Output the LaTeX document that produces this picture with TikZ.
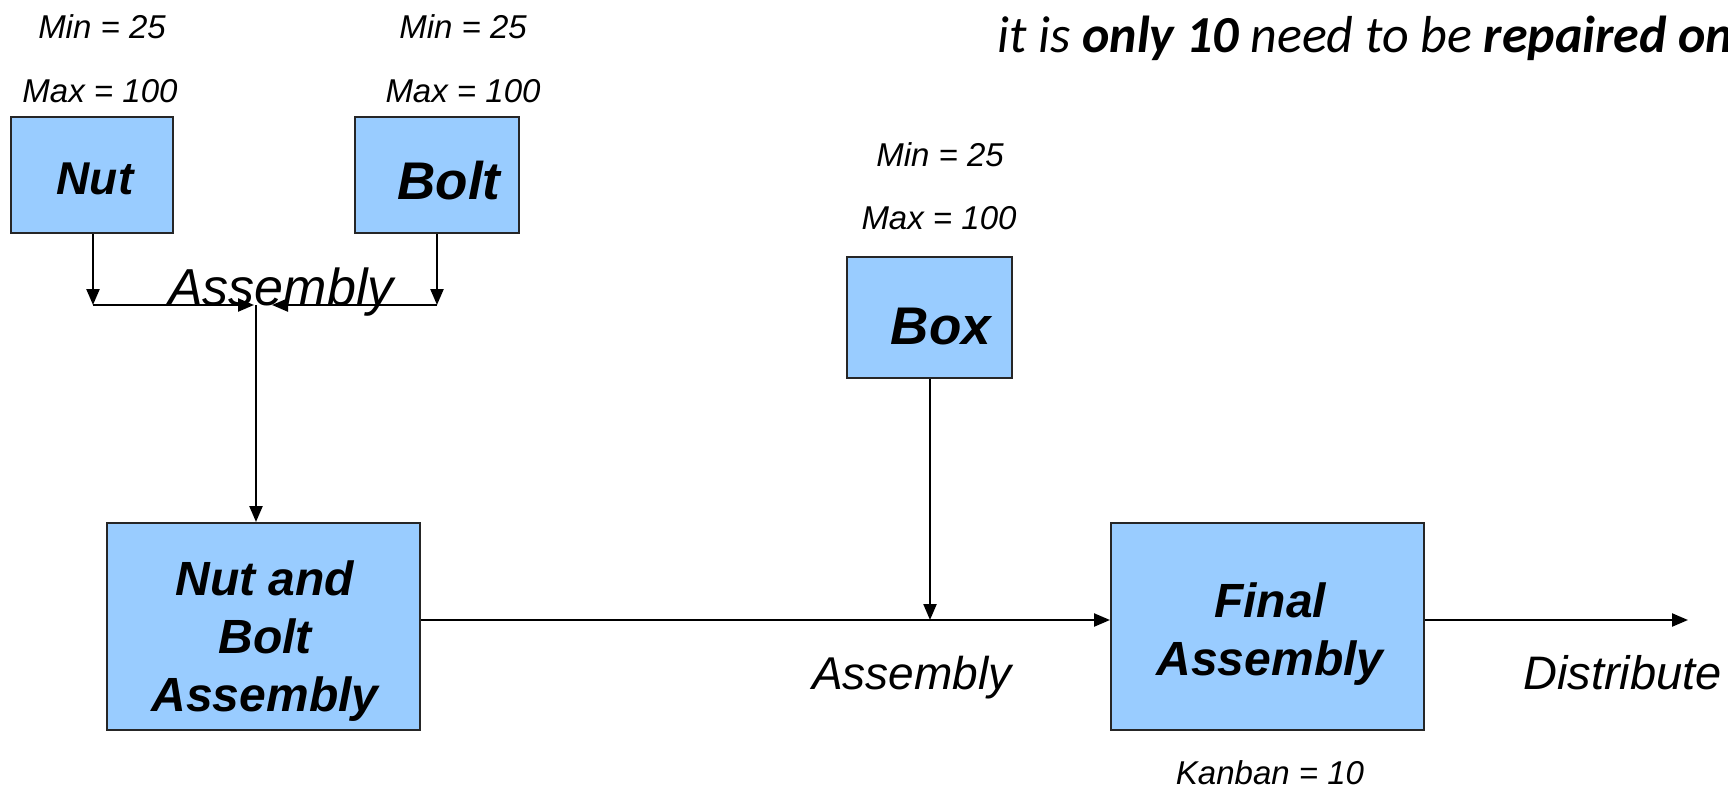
\documentclass[tikz,border=0pt]{standalone}
\usepackage{fontspec}
\setmainfont{Liberation Sans}
\newfontfamily\calib{Carlito}
\usetikzlibrary{arrows.meta}
\definecolor{boxblue}{HTML}{99CCFF}
\begin{document}
\begin{tikzpicture}[x=1pt,y=-1pt,
  blk/.style={draw=black!85, line width=2pt, fill=boxblue, inner sep=0pt},
  arr/.style={line width=2.3pt, -{Triangle[length=16pt,width=13pt]}},
  lim/.style={font=\itshape\fontsize{33}{40}\selectfont, inner sep=0pt, anchor=base},
  big/.style={font=\bfseries\itshape\fontsize{48}{58}\selectfont, align=center, inner sep=0pt},
  lbl/.style={font=\itshape\fontsize{46}{55}\selectfont, inner sep=0pt, anchor=base west}]
\useasboundingbox (0,0) rectangle (1728,788);

% top note
\node[inner sep=0pt, anchor=base west, font=\calib\itshape\fontsize{52}{62}\selectfont] (note) at (997,52)
  {it is \textbf{only 10} need to be \textbf{repaired on}};

% boxes
\node[blk, minimum width=162pt, minimum height=116pt] (nut) at (92,175) {};
\node[blk, minimum width=164pt, minimum height=116pt] (bolt) at (437,175) {};
\node[blk, minimum width=165pt, minimum height=121pt] (box) at (929.5,317.5) {};
\node[blk, minimum width=313pt, minimum height=207pt] (nba) at (263.5,626.5) {};
\node[blk, minimum width=313pt, minimum height=207pt] (final) at (1267.5,626.5) {};

% box texts
\node[big, font=\bfseries\itshape\fontsize{46}{55}\selectfont, anchor=base] (nutt) at (95,194) {Nut};
\node[big, font=\bfseries\itshape\fontsize{53}{64}\selectfont, anchor=base] (boltt) at (449,199.5) {Bolt};
\node[big, font=\bfseries\itshape\fontsize{53}{64}\selectfont, anchor=base] (boxt) at (941,344) {Box};
\node[big] (nbat) at (265,641) {Nut and\\Bolt\\Assembly};
\node[big] (finalt) at (1270,634) {Final\\Assembly};

% limits
\node[lim] (nutmin) at (102,38.6) {Min = 25};
\node[lim] (nutmax) at (100,102.5) {Max = 100};
\node[lim] (boltmin) at (463,38.6) {Min = 25};
\node[lim] (boltmax) at (463,102.5) {Max = 100};
\node[lim] (boxmin) at (940,166) {Min = 25};
\node[lim] (boxmax) at (939,229) {Max = 100};
\node[lim] (kanban) at (1270,784) {Kanban = 10};

% process labels
\node[lbl, font=\itshape\fontsize{52}{62}\selectfont] (asm1) at (168,305) {Assembly};
\node[lbl] (asm2) at (812,689) {Assembly};
\node[lbl, font=\itshape\fontsize{47}{56}\selectfont] (dist) at (1523,689) {Distribute};

% junction coordinates
\coordinate (nj) at (93,305);
\coordinate (bj) at (437,305);
\coordinate (ltip) at (254,305);
\coordinate (rtip) at (272,305);
\coordinate (mj) at (256,305);
\coordinate (bx) at (930,620);
\coordinate (out) at (1688,620);

% connectors
\draw[arr] (nut.south -| nj) -- (nj);
\draw[arr] (bolt.south) -- (bj);
\draw[arr] (nj) -- (ltip);
\draw[arr] (bj) -- (rtip);
\draw[arr] (mj) -- (mj |- nba.north);
\draw[arr] (nba.east |- bx) -- (final.west |- bx);
\draw[arr] (box.south -| bx) -- (bx);
\draw[arr] (final.east |- out) -- (out);
\end{tikzpicture}
\end{document}
